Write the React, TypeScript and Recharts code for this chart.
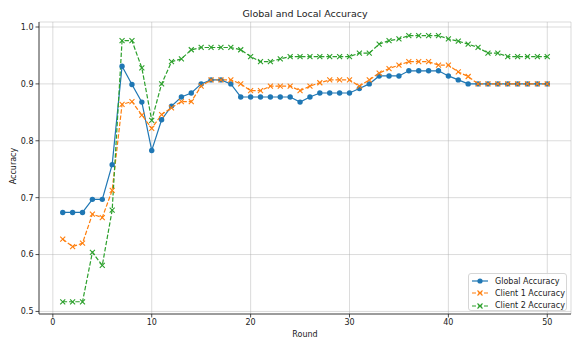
import React from 'react';
import {
  LineChart,
  Line,
  XAxis,
  YAxis,
  CartesianGrid,
} from 'recharts';

const rounds = [
  1, 2, 3, 4, 5, 6, 7, 8, 9, 10, 11, 12, 13, 14, 15, 16, 17, 18, 19, 20, 21, 22, 23, 24, 25,
  26, 27, 28, 29, 30, 31, 32, 33, 34, 35, 36, 37, 38, 39, 40, 41, 42, 43, 44, 45, 46, 47, 48, 49, 50,
];

const globalAcc = [
  0.674, 0.674, 0.674, 0.697, 0.697, 0.758, 0.931, 0.899, 0.868, 0.783,
  0.837, 0.861, 0.877, 0.884, 0.9, 0.907, 0.907, 0.9, 0.877, 0.877,
  0.877, 0.877, 0.877, 0.877, 0.868, 0.877, 0.884, 0.884, 0.884, 0.884,
  0.892, 0.9, 0.914, 0.914, 0.914, 0.923, 0.923, 0.923, 0.923, 0.914,
  0.907, 0.9, 0.9, 0.9, 0.9, 0.9, 0.9, 0.9, 0.9, 0.9,
];

const client1Acc = [
  0.627, 0.614, 0.62, 0.671, 0.665, 0.713, 0.864, 0.869, 0.845, 0.822,
  0.846, 0.858, 0.869, 0.869, 0.896, 0.907, 0.907, 0.907, 0.9, 0.888,
  0.888, 0.896, 0.896, 0.896, 0.888, 0.896, 0.902, 0.907, 0.907, 0.907,
  0.896, 0.907, 0.919, 0.927, 0.933, 0.939, 0.939, 0.939, 0.933, 0.933,
  0.921, 0.913, 0.9, 0.9, 0.9, 0.9, 0.9, 0.9, 0.9, 0.9,
];

const client2Acc = [
  0.517, 0.517, 0.517, 0.604, 0.581, 0.678, 0.976, 0.976, 0.928, 0.836,
  0.9, 0.939, 0.944, 0.96, 0.964, 0.964, 0.964, 0.964, 0.96, 0.948,
  0.939, 0.939, 0.944, 0.948, 0.948, 0.948, 0.948, 0.948, 0.948, 0.948,
  0.954, 0.954, 0.97, 0.976, 0.979, 0.985, 0.985, 0.985, 0.985, 0.979,
  0.975, 0.97, 0.964, 0.954, 0.954, 0.948, 0.948, 0.948, 0.948, 0.948,
];

const xTicks = [0, 10, 20, 30, 40, 50];
const yTicks = [0.5, 0.6, 0.7, 0.8, 0.9, 1.0];

const data = rounds.map((r, i) => ({
  round: r,
  global: globalAcc[i],
  client1: client1Acc[i],
  client2: client2Acc[i],
}));

const BLUE = '#1f77b4';
const ORANGE = '#ff7f0e';
const GREEN = '#2ca02c';
const FONT = '"DejaVu Sans", sans-serif';

const XDot = (color: string) => (props: any) => {
  const { cx, cy, index } = props;
  if (cx == null || cy == null) return null;
  const s = 2.5;
  return (
    <path
      key={index}
      d={`M${cx - s},${cy - s}L${cx + s},${cy + s}M${cx - s},${cy + s}L${cx + s},${cy - s}`}
      stroke={color}
      strokeWidth={1.1}
      fill="none"
    />
  );
};

const tickStyle = { fontSize: 8, fill: '#222', fontFamily: FONT };

const LegendBox = () => (
  <div
    style={{
      position: 'absolute',
      left: 468,
      top: 273,
      width: 99,
      height: 38,
      border: '1px solid #d6d6d6',
      borderRadius: 3,
      background: 'rgba(255,255,255,0.85)',
      fontFamily: FONT,
      fontSize: 8,
      color: '#222',
      boxSizing: 'border-box',
    }}
  >
    {[
      { label: 'Global Accuracy', color: BLUE, dash: undefined, mark: 'o' },
      { label: 'Client 1 Accuracy', color: ORANGE, dash: '4 2', mark: 'x' },
      { label: 'Client 2 Accuracy', color: GREEN, dash: '4 2', mark: 'x' },
    ].map((it, i) => (
      <div
        key={it.label}
        style={{ position: 'absolute', left: 3, top: 1 + i * 12.3, height: 12, display: 'flex', alignItems: 'center' }}
      >
        <svg width={16} height={8}>
          <line x1={0} y1={4} x2={16} y2={4} stroke={it.color} strokeWidth={1.2} strokeDasharray={it.dash} />
          {it.mark === 'o' ? (
            <circle cx={8} cy={4} r={2.6} fill={it.color} />
          ) : (
            <path d="M5.5,1.5L10.5,6.5M5.5,6.5L10.5,1.5" stroke={it.color} strokeWidth={1.1} />
          )}
        </svg>
        <span style={{ marginLeft: 7, whiteSpace: 'nowrap' }}>{it.label}</span>
      </div>
    ))}
  </div>
);

const App = () => {
  return (
    <div style={{ position: 'relative', width: 572, height: 341, background: '#fff' }}>
      <style>{'body{margin:0}'}</style>
      <LineChart
        width={572}
        height={341}
        data={data}
        margin={{ top: 22, right: 1, bottom: 0, left: 0 }}
      >
        <CartesianGrid stroke="#b0b0b0" strokeOpacity={0.45} strokeWidth={1} />
        <XAxis
          dataKey="round"
          type="number"
          domain={[-1.4, 52.4]}
          ticks={xTicks}
          height={27}
          tick={tickStyle}
          tickSize={3.5}
          tickMargin={2}
          stroke="#222"
          strokeWidth={0.8}
          allowDataOverflow
        />
        <XAxis
          xAxisId="top"
          orientation="top"
          dataKey="round"
          type="number"
          domain={[-1.4, 52.4]}
          height={0}
          tick={false}
          tickLine={false}
          stroke="#222"
          strokeWidth={0.8}
        />
        <YAxis
          type="number"
          domain={[0.4955, 1.0088]}
          ticks={yTicks}
          width={39}
          tick={tickStyle}
          tickSize={3.5}
          tickMargin={2}
          tickFormatter={(v: number) => v.toFixed(1)}
          stroke="#222"
          strokeWidth={0.8}
          allowDataOverflow
        />
        <YAxis
          yAxisId="right"
          orientation="right"
          domain={[0.4955, 1.0088]}
          width={0}
          tick={false}
          tickLine={false}
          stroke="#222"
          strokeWidth={0.8}
        />
        <Line
          dataKey="global"
          stroke={BLUE}
          strokeWidth={1.2}
          dot={{ r: 2.7, fill: BLUE, stroke: BLUE, strokeWidth: 0 }}
          activeDot={false}
          isAnimationActive={false}
        />
        <Line
          dataKey="client1"
          stroke={ORANGE}
          strokeWidth={1.2}
          strokeDasharray="4.4 1.9"
          dot={XDot(ORANGE)}
          activeDot={false}
          isAnimationActive={false}
        />
        <Line
          dataKey="client2"
          stroke={GREEN}
          strokeWidth={1.2}
          strokeDasharray="4.4 1.9"
          dot={XDot(GREEN)}
          activeDot={false}
          isAnimationActive={false}
        />
      </LineChart>
      <div
        style={{
          position: 'absolute',
          left: 0,
          width: 572,
          top: 8,
          paddingLeft: 38,
          boxSizing: 'border-box',
          textAlign: 'center',
          fontFamily: FONT,
          fontSize: 9.5,
          color: '#222',
          lineHeight: '12px',
        }}
      >
        Global and Local Accuracy
      </div>
      <div
        style={{
          position: 'absolute',
          left: 0,
          width: 572,
          top: 330,
          paddingLeft: 38,
          boxSizing: 'border-box',
          textAlign: 'center',
          fontFamily: FONT,
          fontSize: 8,
          color: '#222',
          lineHeight: '10px',
        }}
      >
        Round
      </div>
      <div
        style={{
          position: 'absolute',
          left: 14,
          top: 166,
          transform: 'translate(-50%, -50%) rotate(-90deg)',
          fontFamily: FONT,
          fontSize: 8,
          color: '#222',
          whiteSpace: 'nowrap',
          lineHeight: '10px',
        }}
      >
        Accuracy
      </div>
      <LegendBox />
    </div>
  );
};

export default App;
